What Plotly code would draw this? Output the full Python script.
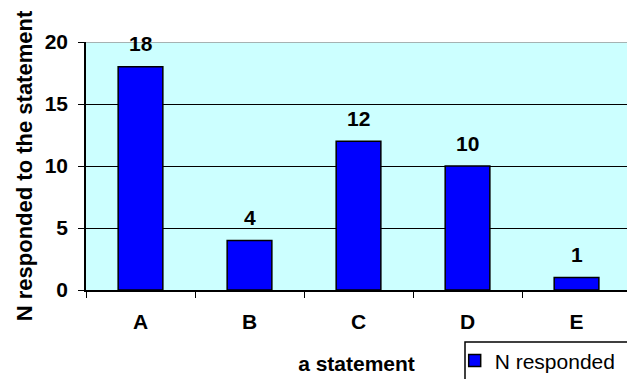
import plotly.graph_objects as go

statements = ["A", "B", "C", "D", "E"]
n_responded = [18, 4, 12, 10, 1]
y_ticks = [0, 5, 10, 15, 20]

FONT = "Liberation Sans, Arial, sans-serif"
BOLD = dict(family=FONT, size=21, color="#000000", weight="bold")

fig = go.Figure()
fig.add_trace(go.Bar(
    x=statements,
    y=n_responded,
    name="N responded",
    width=0.41,
    marker=dict(color="#0000FF", line=dict(color="#000000", width=1.5)),
    showlegend=True,
))

# value labels above each bar
for s, v in zip(statements, n_responded):
    fig.add_annotation(x=s, y=v, xref="x", yref="y", text=f"<b>{v}</b>",
                       showarrow=False, yanchor="middle", yshift=23,
                       font=dict(family=FONT, size=21, color="#000000"))

fig.update_layout(
    width=627,
    height=379,
    margin=dict(l=86, r=0, t=42, b=89, autoexpand=False),
    paper_bgcolor="#FFFFFF",
    plot_bgcolor="#CCFFFF",
    font=dict(family=FONT, size=21, color="#000000"),
    bargap=0.59,
    showlegend=True,
    legend=dict(
        x=0.6815, y=-0.203, xanchor="left", yanchor="top",
        bgcolor="rgba(0,0,0,0)", borderwidth=0,
        font=dict(family=FONT, size=21, color="#000000"),
        itemwidth=30,
    ),
    xaxis=dict(
        range=[-0.5, 4.463],
        tickson="boundaries",
        ticks="outside",
        ticklen=6,
        tickcolor="#000000",
        showline=True,
        linecolor="#000000",
        linewidth=1.5,
        showgrid=False,
        tickfont=BOLD,
        ticklabelstandoff=12,
        automargin=False,
        title=dict(text="<b>a statement</b>", font=dict(family=FONT, size=21), standoff=24),
    ),
    yaxis=dict(
        range=[0, 20],
        tickvals=y_ticks,
        ticks="outside",
        ticklen=6,
        tickcolor="#000000",
        showline=True,
        linecolor="#000000",
        linewidth=1.5,
        showgrid=True,
        gridcolor="#000000",
        gridwidth=1.2,
        zeroline=False,
        tickfont=BOLD,
        ticklabelstandoff=6,
        automargin=False,
        title=dict(text="<b>N responded to the statement</b>", font=dict(family=FONT, size=22), standoff=6),
    ),
)

# grey frame line along the top of the plot area
fig.add_shape(type="line", xref="paper", yref="y", x0=0, x1=1, y0=20, y1=20,
              line=dict(color="#999999", width=1.5))

# legend frame
fig.add_shape(type="rect", xref="paper", yref="paper",
              x0=(465 - 86) / 541, x1=1.05, y0=-0.45, y1=(290 - 342) / 248,
              line=dict(color="#000000", width=1.5), fillcolor="rgba(0,0,0,0)")

fig.write_html("out.html")
